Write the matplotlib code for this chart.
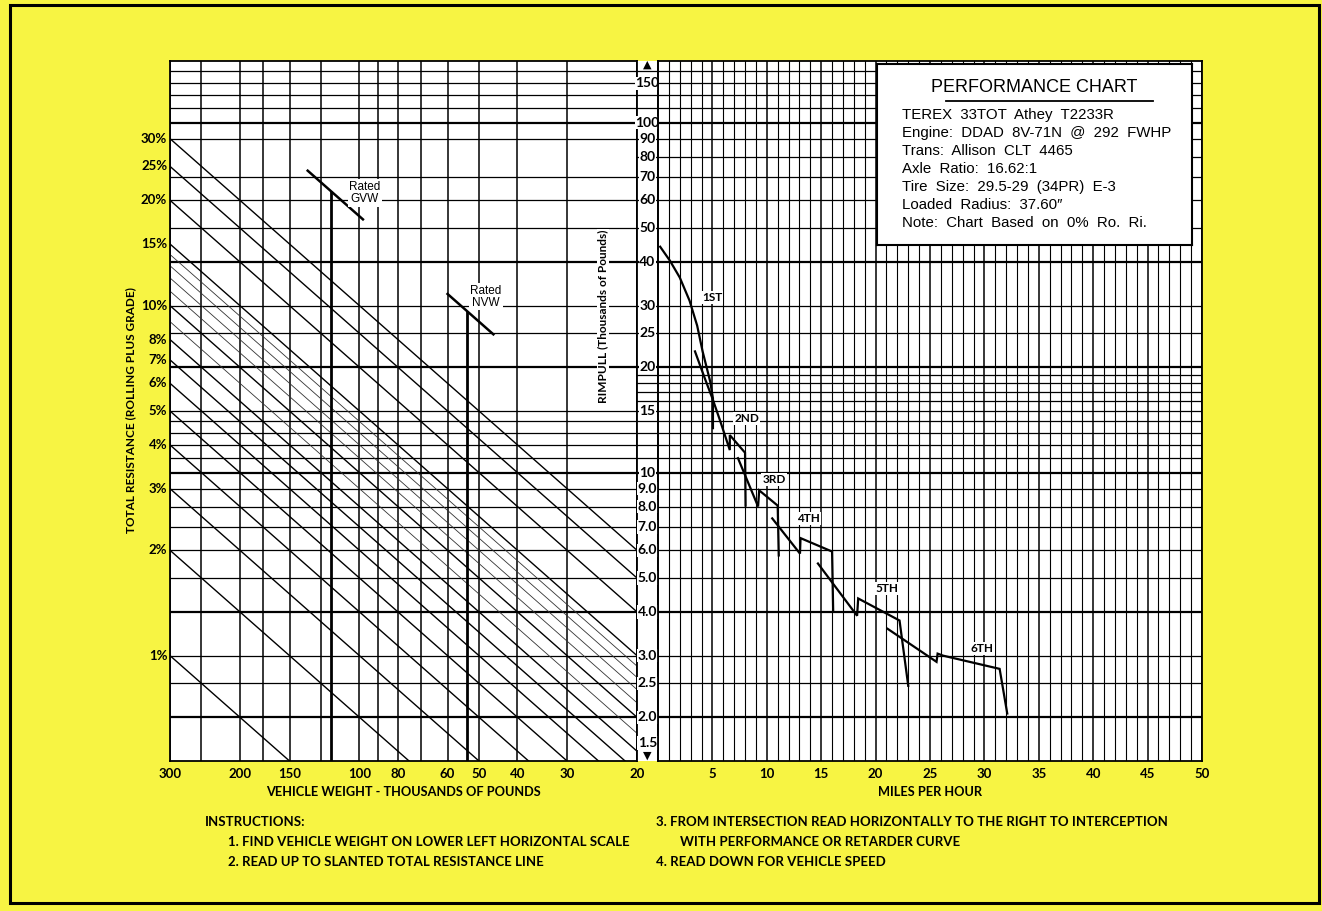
import numpy as np
import matplotlib
matplotlib.use('Agg')
from matplotlib import pyplot as plt
from matplotlib.patches import Rectangle
from matplotlib.ticker import NullLocator

'''
    Terex 33TOT performance chart (rimpull / speed / grade nomogram)
'''

# ---- chart values ----
weight_grid = [300, 250, 200, 175, 150, 125, 100, 90, 80, 70, 60, 50, 40, 30, 20]
weight_ticks = [300, 200, 150, 100, 80, 60, 50, 40, 30, 20]

resistance_labeled = [30, 25, 20, 15, 10, 8, 7, 6, 5, 4, 3, 2, 1]
resistance_thin = [14, 13, 12, 11, 9]

left_rimpull_grid = [2, 2.5, 3, 4, 5, 6, 7, 8, 9, 10, 11, 12, 13, 14, 15, 20, 25, 30,
                     40, 50, 60, 70, 90, 100, 110, 120, 130, 140]
right_rimpull_grid = left_rimpull_grid + [16, 17, 18, 19, 80]
rimpull_heavy = [2, 4, 10, 20, 40, 100]

rimpull_ticks = [150, 100, 90, 80, 70, 60, 50, 40, 30, 25, 20, 15, 10, 9, 8, 7, 6, 5, 4, 3, 2.5, 2, 1.5]
rimpull_tick_labels = ['150', '100', '90', '80', '70', '60', '50', '40', '30', '25', '20', '15', '10',
                       '9.0', '8.0', '7.0', '6.0', '5.0', '4.0', '3.0', '2.5', '2.0', '1.5']

mph_grid = list(range(0, 51))
mph_ticks = [5, 10, 15, 20, 25, 30, 35, 40, 45, 50]

gvw_weight = 118
nvw_weight = 53.5
rated_grade = 54
gvw_marker = [135, 98]
nvw_marker = [60, 46]

gear1_mph = [0.2, 1.1, 2.0, 2.9, 3.6, 4.1, 4.8, 5.05, 5.05]
gear1_rimpull = [44.2, 40.3, 36.1, 31.0, 26.3, 22.2, 18.2, 16.3, 13.4]
gear2_mph = [3.4, 4.3, 5.0, 5.7, 6.6, 6.6, 8.0, 8.05]
gear2_rimpull = [22.2, 18.6, 16.3, 14.1, 11.6, 12.8, 11.4, 8.05]
gear3_mph = [7.35, 9.2, 9.3, 11.0, 11.1]
gear3_rimpull = [11.0, 8.0, 8.9, 8.05, 5.8]
gear4_mph = [10.5, 13.05, 13.1, 16.0, 16.1]
gear4_rimpull = [7.4, 5.87, 6.5, 5.95, 4.03]
gear5_mph = [14.7, 18.3, 18.4, 22.2, 23.0]
gear5_rimpull = [5.5, 3.9, 4.37, 3.78, 2.46]
gear6_mph = [21.1, 25.6, 25.7, 26.2, 31.4, 32.1]
gear6_rimpull = [3.58, 2.88, 3.04, 3.0, 2.75, 2.05]

gear_names = ['1ST', '2ND', '3RD', '4TH', '5TH', '6TH']
gear_label_mph = [4.96, 8.18, 10.66, 13.79, 21.05, 29.8]
gear_label_rimpull = [31.6, 14.3, 9.55, 7.4, 4.66, 3.14]

spec_title = 'PERFORMANCE CHART'
spec_lines = ['TEREX  33TOT  Athey  T2233R',
              'Engine:  DDAD  8V-71N  @  292  FWHP',
              'Trans:  Allison  CLT  4465',
              'Axle  Ratio:  16.62:1',
              'Tire  Size:  29.5-29  (34PR)  E-3',
              'Loaded  Radius:  37.60\u2033',
              'Note:  Chart  Based  on  0%  Ro.  Ri.']

# ---- layout helpers (pixel -> figure fraction) ----
FW, FH = 1322, 911
YELLOW = '#F7F443'


def fx(px):
    return px / FW


def fy(py):
    return 1 - py / FH


def box(x0, y0, x1, y1):
    return [fx(x0), fy(y1), (x1 - x0) / FW, (y1 - y0) / FH]


plt.rcParams['font.family'] = ['Lato', 'DejaVu Sans']
fig = plt.figure(figsize=(FW / 100, FH / 100), dpi=100, facecolor=YELLOW)

# outer frame
fig.patches.append(Rectangle((fx(10), fy(903)), (1319 - 10) / FW, (903 - 5) / FH,
                             transform=fig.transFigure, fill=False, lw=2.2, ec='k'))

PLOT_TOP, PLOT_BOT = 61, 761
YLIM = (1.5, 150)


def clean(ax):
    ax.set_facecolor('white')
    ax.xaxis.set_minor_locator(NullLocator())
    ax.yaxis.set_minor_locator(NullLocator())
    ax.tick_params(which='both', length=0)
    ax.set_yticks([])
    for s in ax.spines.values():
        s.set_linewidth(1.3)


# ---- left panel: vehicle weight vs total resistance ----
ax_l = fig.add_axes(box(170, PLOT_TOP, 637, PLOT_BOT))
ax_l.set_xscale('log')
ax_l.set_yscale('log')
ax_l.set_xlim(weight_grid[0], weight_grid[-1])
ax_l.set_ylim(*YLIM)
clean(ax_l)
ax_l.vlines(weight_grid, YLIM[0], YLIM[1], color='k', lw=1.1)
for r in left_rimpull_grid:
    ax_l.axhline(r, color='k', lw=1.6 if r in rimpull_heavy else 0.9)

w_line = np.array([weight_grid[0], weight_grid[-1]], dtype=float)
for r in resistance_labeled:
    ax_l.plot(w_line, w_line * r / 100, color='k', lw=1.0)
for r in resistance_thin:
    ax_l.plot(w_line, w_line * r / 100, color='#333333', lw=0.6)

for r in resistance_labeled:
    ax_l.annotate('%d%%' % r, xy=(weight_grid[0], weight_grid[0] * r / 100), xytext=(-2, 0),
                  textcoords='offset points', ha='right', va='center', fontsize=9.5,
                  fontweight='bold', annotation_clip=False)

ax_l.set_xticks(weight_ticks)
ax_l.set_xticklabels([str(w) for w in weight_ticks], fontsize=9.5, fontweight='bold')
ax_l.tick_params(axis='x', pad=5)

# rated weight markers
m = np.array(gvw_marker, dtype=float)
ax_l.plot(m, m * rated_grade / 100, color='k', lw=1.8)
ax_l.vlines(gvw_weight, YLIM[0], gvw_weight * rated_grade / 100, color='k', lw=2.0)
m = np.array(nvw_marker, dtype=float)
ax_l.plot(m, m * rated_grade / 100, color='k', lw=1.8)
ax_l.vlines(nvw_weight, YLIM[0], nvw_weight * rated_grade / 100, color='k', lw=2.0)
ax_l.text(97, 62.9, 'Rated\nGVW', ha='center', va='center', fontsize=8.5, family='Liberation Sans',
          linespacing=1.05, bbox=dict(fc='white', ec='none', pad=1.0))
ax_l.text(48, 31.8, 'Rated\nNVW', ha='center', va='center', fontsize=8.5, family='Liberation Sans',
          linespacing=1.05, bbox=dict(fc='white', ec='none', pad=1.0))

# ---- centre column: rimpull scale ----
ax_c = fig.add_axes(box(637, PLOT_TOP, 658, PLOT_BOT))
ax_c.set_yscale('log')
ax_c.set_ylim(*YLIM)
ax_c.set_xlim(0, 1)
clean(ax_c)
ax_c.set_xticks([])
ax_c.spines['top'].set_visible(False)
ax_c.spines['bottom'].set_visible(False)
for r in right_rimpull_grid:
    ax_c.axhline(r, color='k', lw=1.6 if r in rimpull_heavy else 0.9)
for val, lab in zip(rimpull_ticks, rimpull_tick_labels):
    off = 0
    if val == YLIM[1]:
        off = -16
    elif val == YLIM[0]:
        off = 13
    ax_c.annotate(lab, xy=(0.5, val), xytext=(0, off), textcoords='offset points',
                  ha='center', va='center', fontsize=10, fontweight='bold',
                  bbox=dict(fc='white', ec='none', pad=0.5), annotation_clip=False)
ax_c.annotate('\u25B2', xy=(0.5, 1), xycoords='axes fraction', xytext=(0, 1),
              textcoords='offset points', ha='center', va='top', fontsize=8, family='DejaVu Sans')
ax_c.annotate('\u25BC', xy=(0.5, 0), xycoords='axes fraction', xytext=(0, 0),
              textcoords='offset points', ha='center', va='bottom', fontsize=8, family='DejaVu Sans')

# ---- right panel: rimpull vs speed ----
ax_r = fig.add_axes(box(658, PLOT_TOP, 1202, PLOT_BOT))
ax_r.set_yscale('log')
ax_r.set_ylim(*YLIM)
ax_r.set_xlim(mph_grid[0], mph_grid[-1])
clean(ax_r)
for v in mph_grid:
    ax_r.axvline(v, color='k', lw=1.1 if v % 5 == 0 else 0.8)
for r in right_rimpull_grid:
    ax_r.axhline(r, color='k', lw=1.6 if r in rimpull_heavy else 0.9)

gears = [(gear1_mph, gear1_rimpull), (gear2_mph, gear2_rimpull), (gear3_mph, gear3_rimpull),
         (gear4_mph, gear4_rimpull), (gear5_mph, gear5_rimpull), (gear6_mph, gear6_rimpull)]
for gm, gr in gears:
    ax_r.plot(gm, gr, color='k', lw=1.6, solid_joinstyle='miter', zorder=4)
for name, gm, gr in zip(gear_names, gear_label_mph, gear_label_rimpull):
    ax_r.text(gm, gr, name, ha='center', va='center', fontsize=8.5, fontweight='bold',
              bbox=dict(fc='white', ec='none', pad=0.8), zorder=5)

ax_r.set_xticks(mph_ticks)
ax_r.set_xticklabels([str(v) for v in mph_ticks], fontsize=9.5, fontweight='bold')
ax_r.tick_params(axis='x', pad=5)

# ---- spec box ----
ax_b = fig.add_axes(box(877, 64, 1192, 245))
ax_b.set_facecolor('white')
ax_b.set_xticks([])
ax_b.set_yticks([])
for s in ax_b.spines.values():
    s.set_linewidth(1.5)
bw, bh = 1192 - 877, 245 - 64
ax_b.text(0.5, 1 - (87 - 64) / bh, spec_title, transform=ax_b.transAxes, ha='center', va='center',
          fontsize=13, family='Liberation Sans')
ax_b.plot([(946 - 877) / bw, (1153 - 877) / bw], [1 - (101 - 64) / bh] * 2,
          transform=ax_b.transAxes, color='k', lw=1.3)
for i, line in enumerate(spec_lines):
    ax_b.text((902 - 877) / bw, 1 - (115 + i * 18 - 64) / bh, line, transform=ax_b.transAxes,
              ha='left', va='center', fontsize=10.8, family='Liberation Sans')

# ---- axis titles and instructions ----
fig.text(fx(131), fy(410), 'TOTAL RESISTANCE (ROLLING PLUS GRADE)', rotation=90, ha='center',
         va='center', fontsize=8.5, fontweight='bold')
fig.text(fx(603), fy(316), 'RIMPULL (Thousands of Pounds)', rotation=90, ha='center', va='center',
         fontsize=8.5, fontweight='bold', bbox=dict(fc='white', ec='none', pad=0.5), zorder=6)
fig.text(fx(403), fy(792), 'VEHICLE WEIGHT - THOUSANDS OF POUNDS', ha='center', va='center',
         fontsize=9.2, fontweight='bold')
fig.text(fx(930), fy(792), 'MILES PER HOUR', ha='center', va='center', fontsize=9.2, fontweight='bold')

instr = [(205, 822, 'INSTRUCTIONS:'),
         (228, 842, '1. FIND VEHICLE WEIGHT ON LOWER LEFT HORIZONTAL SCALE'),
         (228, 862, '2. READ UP TO SLANTED TOTAL RESISTANCE LINE'),
         (656, 822, '3. FROM INTERSECTION READ HORIZONTALLY TO THE RIGHT TO INTERCEPTION'),
         (680, 842, 'WITH PERFORMANCE OR RETARDER CURVE'),
         (656, 862, '4. READ DOWN FOR VEHICLE SPEED')]
for x, y, t in instr:
    fig.text(fx(x), fy(y), t, ha='left', va='center', fontsize=9.5, fontweight='bold')

fig.savefig('out.png', dpi=100, facecolor=YELLOW)
